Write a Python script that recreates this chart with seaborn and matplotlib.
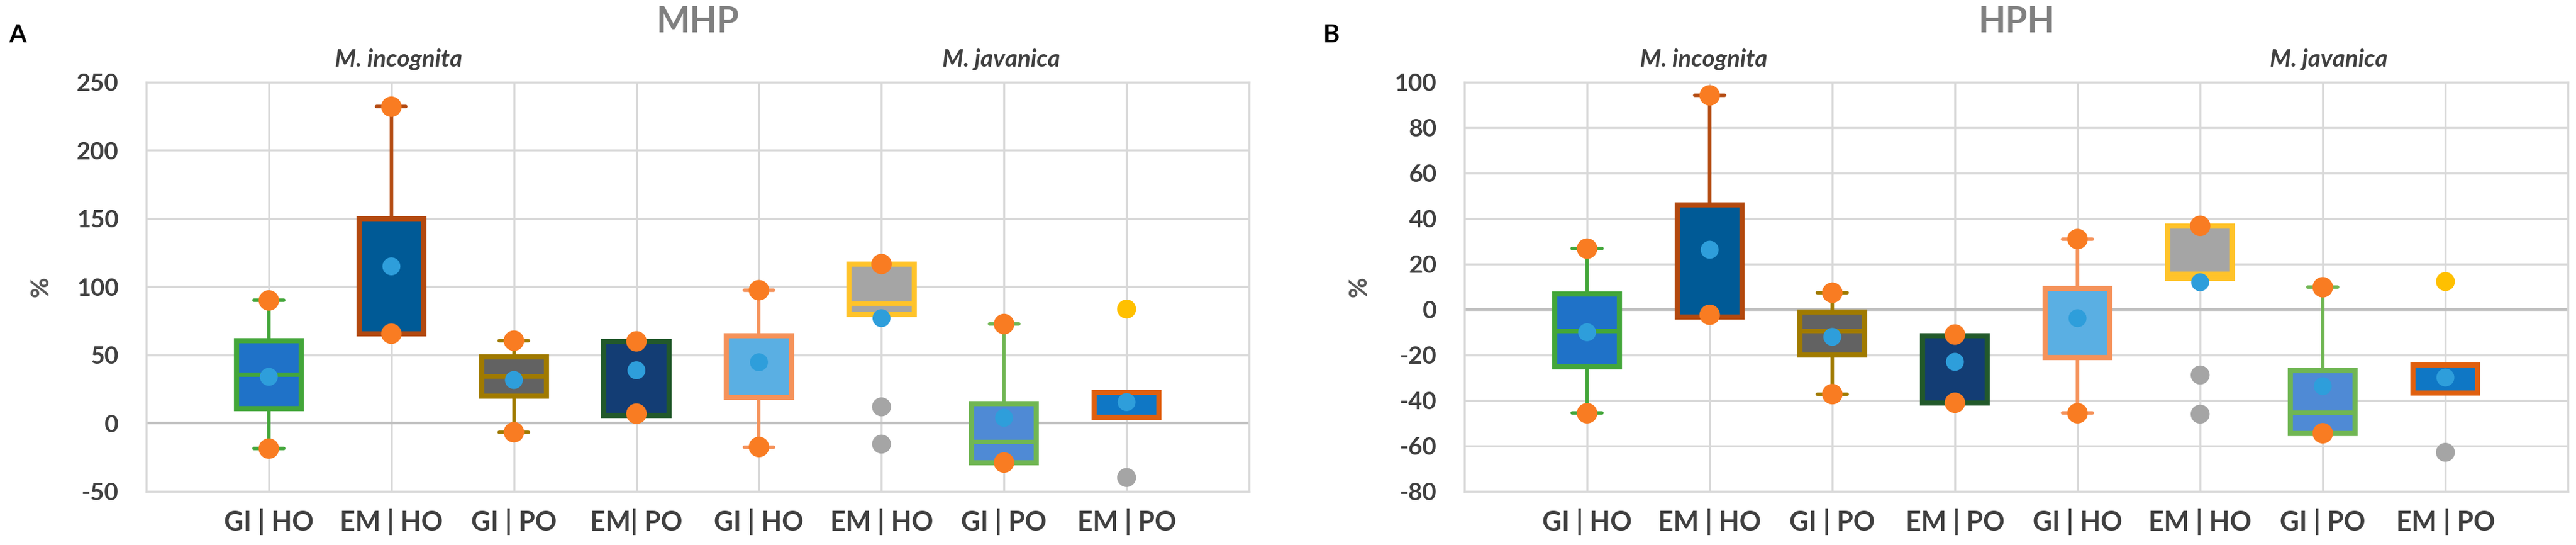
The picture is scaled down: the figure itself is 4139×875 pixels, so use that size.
import numpy as np
import pandas as pd
import matplotlib
matplotlib.use("Agg")
import matplotlib.pyplot as plt
import seaborn as sns

nan = np.nan

# category labels
labels_a = ["GI | HO", "EM | HO", "GI | PO", "EM| PO", "GI | HO", "EM | HO", "GI | PO", "EM | PO"]
labels_b = ["GI | HO", "EM | HO", "GI | PO", "EM | PO", "GI | HO", "EM | HO", "GI | PO", "EM | PO"]

# box colours (same order in both panels)
box_fill = ["#1F72C8", "#005A96", "#626262", "#133D74", "#5AAFE3", "#A5A5A5", "#4F8AD5", "#0F77C5"]
box_edge = ["#43A63A", "#B3490F", "#A07A00", "#22592B", "#F5925A", "#FFC32A", "#70B653", "#E0600F"]

# panel A - MHP
a_q1 = [10.7, 65.6, 19.7, 5.6, 19.1, 79.5, -28.8, 4.5]
a_q3 = [60.5, 150.0, 48.5, 60.0, 64.3, 116.5, 14.6, 22.8]
a_med = [35.7, nan, 34.5, nan, nan, 88.0, -13.3, nan]
a_lo = [-18.6, 65.6, -6.6, 5.6, -17.4, 79.5, -28.8, 4.5]
a_hi = [90.0, 232.0, 60.5, 60.0, 97.5, 116.5, 72.7, 22.8]
a_mean = [34.0, 115.0, 31.7, 38.8, 44.7, 77.0, 4.0, 15.5]
a_orange_pos = [0, 0, 1, 1, 2, 2, 3, 3, 4, 4, 5, 6, 6]
a_orange_val = [90.0, -18.6, 232.0, 65.6, 60.5, -6.6, 60.0, 7.0, 97.5, -17.4, 116.7, 72.7, -28.8]
a_gray_pos = [5, 5, 7]
a_gray_val = [12.0, -15.3, -39.8]
a_yellow_pos = [7]
a_yellow_val = [83.7]

# panel B - HPH
b_q1 = [-25.3, -3.4, -20.0, -41.0, -21.0, 13.8, -54.4, -36.8]
b_q3 = [6.9, 46.0, -1.0, -11.5, 9.2, 36.8, -26.8, -24.5]
b_med = [-9.2, nan, -9.2, nan, nan, 16.0, -45.2, nan]
b_lo = [-45.6, -3.4, -37.2, -41.0, -45.6, 13.8, -54.4, -36.8]
b_hi = [26.8, 94.2, 7.4, -11.5, 31.0, 36.8, 9.8, -24.5]
b_mean = [-10.0, 26.3, -12.0, -23.0, -3.8, 12.0, -33.7, -29.9]
b_orange_pos = [0, 0, 1, 1, 2, 2, 3, 3, 4, 4, 5, 6, 6]
b_orange_val = [26.8, -45.6, 94.2, -2.3, 7.4, -37.2, -11.0, -41.0, 31.0, -45.6, 36.8, 9.8, -54.4]
b_gray_pos = [5, 5, 7]
b_gray_val = [-28.8, -46.0, -62.8]
b_yellow_pos = [7]
b_yellow_val = [12.3]

FONT = ["Lato", "DejaVu Sans"]
TXT = "#404040"
GRID = "#d9d9d9"

sns.set_theme(style="white")
plt.rcParams["font.family"] = FONT


def draw_panel(ax, labels, q1, q3, med, lo, hi, mean,
               o_pos, o_val, g_pos, g_val, y_pos, y_val,
               yticks, title, letter, species_x, fig_letter_x):
    # boxes, one at a time so every box keeps its own colours
    for i in range(len(labels)):
        st = {"q1": q1[i], "q3": q3[i], "med": med[i] if not np.isnan(med[i]) else q1[i],
              "whislo": lo[i], "whishi": hi[i], "fliers": []}
        ax.bxp([st], positions=[i], widths=0.53, patch_artist=True, showfliers=False,
               boxprops=dict(facecolor=box_fill[i], edgecolor=box_edge[i], linewidth=6),
               whiskerprops=dict(color=box_edge[i], linewidth=4),
               capprops=dict(color=box_edge[i], linewidth=4),
               capwidths=0.24,
               medianprops=dict(color=box_edge[i], linewidth=5,
                                visible=not np.isnan(med[i])),
               zorder=3)

    dots = pd.concat([
        pd.DataFrame({"pos": o_pos, "value": o_val, "kind": "extreme"}),
        pd.DataFrame({"pos": range(len(mean)), "value": mean, "kind": "mean"}),
        pd.DataFrame({"pos": g_pos, "value": g_val, "kind": "outlier"}),
        pd.DataFrame({"pos": y_pos, "value": y_val, "kind": "extra"}),
    ], ignore_index=True)
    sns.scatterplot(data=dots, x="pos", y="value", hue="kind", size="kind",
                    palette={"extreme": "#F97C22", "mean": "#2E9EDB",
                             "outlier": "#A5A5A5", "extra": "#FFC000"},
                    sizes={"extreme": 560, "mean": 430, "outlier": 480, "extra": 480},
                    linewidth=0, legend=False, ax=ax, zorder=5)

    ax.set_xlim(-1, 8)
    ax.set_ylim(yticks[0], yticks[-1])
    ax.set_xticks(range(len(labels)))
    ax.set_xticklabels(labels, fontsize=31, fontweight="bold", color=TXT)
    ax.set_yticks(yticks)
    ax.set_yticklabels([str(v) for v in yticks], fontsize=28, fontweight="bold", color=TXT)
    ax.tick_params(axis="x", length=0, pad=20)
    ax.tick_params(axis="y", length=0, pad=32)
    ax.set_xlabel("")
    ax.set_ylabel("%", fontsize=29, fontweight="bold", color="#595959")
    ax.yaxis.set_label_coords(-0.085, 0.5)

    ax.set_axisbelow(True)
    ax.grid(True, color=GRID, linewidth=2.4)
    ax.axhline(0, color="#bfbfbf", linewidth=3, zorder=1)
    for sp in ax.spines.values():
        sp.set_color(GRID)
        sp.set_linewidth(2.4)

    ax.text(species_x[0], 1.055, "M. incognita", transform=ax.transAxes, ha="center",
            va="center", fontsize=28, fontweight="bold", style="italic", color=TXT)
    ax.text(species_x[1], 1.055, "M. javanica", transform=ax.transAxes, ha="center",
            va="center", fontsize=28, fontweight="bold", style="italic", color=TXT)
    ax.text(0.5, 1.147, title, transform=ax.transAxes, ha="center", va="center",
            fontsize=41, fontweight="bold", color="#808080")
    ax.figure.text(fig_letter_x, 0.936, letter, ha="center", va="center",
                   fontsize=29, fontweight="bold", color="black")


fig = plt.figure(figsize=(41.39, 8.75), dpi=100)
ax_a = fig.add_axes([0.0568, 0.0983, 0.4281, 0.7509])
ax_b = fig.add_axes([0.5685, 0.0983, 0.4284, 0.7509])

draw_panel(ax_a, labels_a, a_q1, a_q3, a_med, a_lo, a_hi, a_mean,
           a_orange_pos, a_orange_val, a_gray_pos, a_gray_val, a_yellow_pos, a_yellow_val,
           list(range(-50, 251, 50)), "MHP", "A", (0.2286, 0.775), 0.0068)
draw_panel(ax_b, labels_b, b_q1, b_q3, b_med, b_lo, b_hi, b_mean,
           b_orange_pos, b_orange_val, b_gray_pos, b_gray_val, b_yellow_pos, b_yellow_val,
           list(range(-80, 101, 20)), "HPH", "B", (0.217, 0.783), 0.5168)

fig.savefig("out.png", dpi=100, facecolor="white")
